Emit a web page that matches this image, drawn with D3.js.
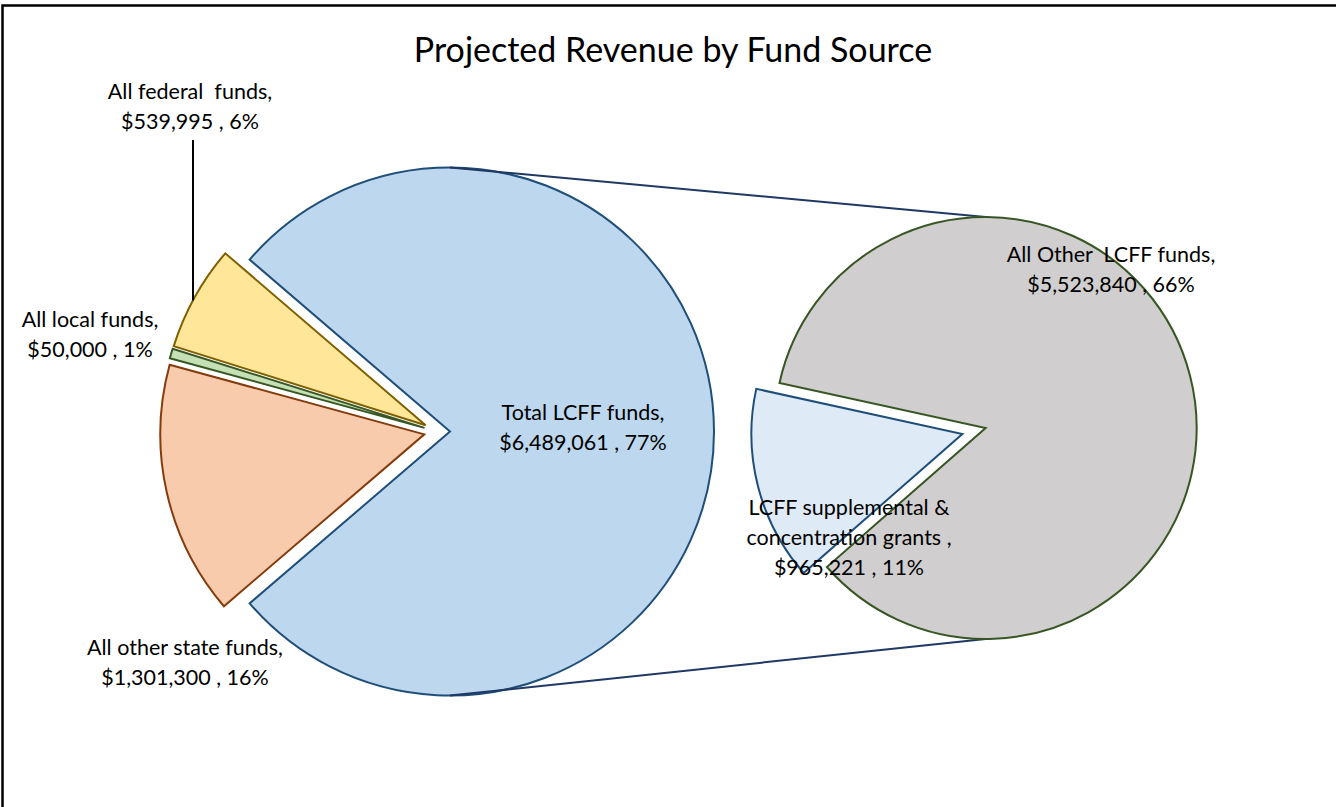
<!DOCTYPE html>
<html>
<head>
<meta charset="utf-8">
<script src="https://cdn.jsdelivr.net/npm/d3@7"></script>
<style>
  html, body { margin: 0; padding: 0; background: #fff; overflow: hidden; }
  text { font-family: Lato, "Open Sans", sans-serif; fill: #000; }
</style>
</head>
<body>
<script>
// main pie: clockwise order starting with the split slice
const categories = ["Total LCFF funds", "All other state funds", "All local funds", "All federal  funds"];
const values = [6489061, 1301300, 50000, 539995];
const pctLabels = ["77%", "16%", "1%", "6%"];

// second pie: breakdown of Total LCFF funds
const subCategories = ["LCFF supplemental &\nconcentration grants ", "All Other  LCFF funds"];
const subValues = [965221, 5523840];
const subPctLabels = ["11%", "66%"];

const fills = ["#BDD7EE", "#F8CBAD", "#C5E0B4", "#FFE699"];
const strokes = ["#1F4E79", "#843C0C", "#385723", "#7F6000"];
const subFills = ["#DEEBF7", "#D0CECE"];
const subStrokes = ["#1F4E79", "#375623"];

const width = 1336, height = 807;
const svg = d3.select("body").append("svg").attr("width", width).attr("height", height);

// chart frame (runs off the right and bottom edges)
svg.append("rect")
   .attr("x", 2.5).attr("y", 5.5)
   .attr("width", 1400).attr("height", 900)
   .attr("fill", "none").attr("stroke", "#000").attr("stroke-width", 2.5);

svg.append("text")
   .attr("x", 673).attr("y", 62)
   .attr("text-anchor", "middle")
   .style("font-size", "34px")
   .text("Projected Revenue by Fund Source");

const fmt = d3.format("$,");
const deg = Math.PI / 180;

// ---- main pie
const main = {cx: 437, cy: 431.5, r: 264, explode: 13};
const total = d3.sum(values);
const start = Math.PI / 2 - (values[0] / total) * Math.PI;
const pie = d3.pie().sort(null).startAngle(start).endAngle(start + 2 * Math.PI);
const arc = d3.arc().innerRadius(0).outerRadius(main.r);
const arcs = pie(values);

const offset = (a, e) => {
  const m = (a.startAngle + a.endAngle) / 2;
  return [e * Math.sin(m), -e * Math.cos(m)];
};

const mainG = svg.append("g").attr("transform", `translate(${main.cx}, ${main.cy})`);
mainG.selectAll("path")
     .data(arcs).enter()
     .append("path")
     .attr("transform", (a) => `translate(${offset(a, main.explode)})`)
     .attr("d", arc)
     .attr("fill", (a, i) => fills[i])
     .attr("stroke", (a, i) => strokes[i])
     .attr("stroke-width", 2)
     .attr("stroke-linejoin", "miter");

// ---- second pie
const sub = {cx: 974, cy: 431, r: 211, explode: 12};
const subStart = 228.8 * deg;
const subPie = d3.pie().sort(null).startAngle(subStart).endAngle(subStart + 2 * Math.PI);
const subArc = d3.arc().innerRadius(0).outerRadius(sub.r);
const subArcs = subPie(subValues);

// series lines between the two pies
const lcffOff = offset(arcs[0], main.explode);
const greyOff = offset(subArcs[1], sub.explode);
const linePts = [
  [[main.cx + lcffOff[0], main.cy + lcffOff[1] - main.r], [sub.cx + greyOff[0], sub.cy + greyOff[1] - sub.r]],
  [[main.cx + lcffOff[0], main.cy + lcffOff[1] + main.r], [sub.cx + greyOff[0], sub.cy + greyOff[1] + sub.r]]
];
svg.selectAll("line.series")
   .data(linePts).enter()
   .append("line")
   .attr("class", "series")
   .attr("x1", (p) => p[0][0]).attr("y1", (p) => p[0][1])
   .attr("x2", (p) => p[1][0]).attr("y2", (p) => p[1][1])
   .attr("stroke", "#1F3864").attr("stroke-width", 2);

const subG = svg.append("g").attr("transform", `translate(${sub.cx}, ${sub.cy})`);
subG.selectAll("path")
    .data(subArcs).enter()
    .append("path")
    .attr("transform", (a) => `translate(${offset(a, sub.explode)})`)
    .attr("d", subArc)
    .attr("fill", (a, i) => subFills[i])
    .attr("stroke", (a, i) => subStrokes[i])
    .attr("stroke-width", 2);

// ---- labels
const labelSize = 21.5, lineH = 30;
function drawLabel(x, y, name, value, pct) {
  const lines = name.split("\n");
  lines[lines.length - 1] += ",";
  lines.push(`${fmt(value)} , ${pct}`);
  const t = svg.append("text")
               .attr("text-anchor", "middle")
               .style("font-size", labelSize + "px")
               .style("white-space", "pre");
  lines.forEach((s, i) => {
    t.append("tspan").attr("x", x).attr("y", y + i * lineH).text(s);
  });
}

// label anchors (centre x, first baseline y)
const labelAt = [[583, 420], [185, 655], [90, 327], [190, 99]];
const subLabelAt = [[849, 515], [1111, 262]];

arcs.forEach((a, i) => drawLabel(labelAt[i][0], labelAt[i][1], categories[i], values[i], pctLabels[i]));
subArcs.forEach((a, i) => drawLabel(subLabelAt[i][0], subLabelAt[i][1], subCategories[i], subValues[i], subPctLabels[i]));

// leader line for the federal label
const fed = arcs[3];
const fedOff = offset(fed, main.explode);
const fcx = main.cx + fedOff[0], fcy = main.cy + fedOff[1];
const lx = labelAt[3][0] + 3;
const ly = fcy - Math.sqrt(main.r * main.r - (lx - fcx) * (lx - fcx));
svg.append("line")
   .attr("x1", lx).attr("y1", 140)
   .attr("x2", lx).attr("y2", ly)
   .attr("stroke", "#000").attr("stroke-width", 2);
</script>
</body>
</html>
